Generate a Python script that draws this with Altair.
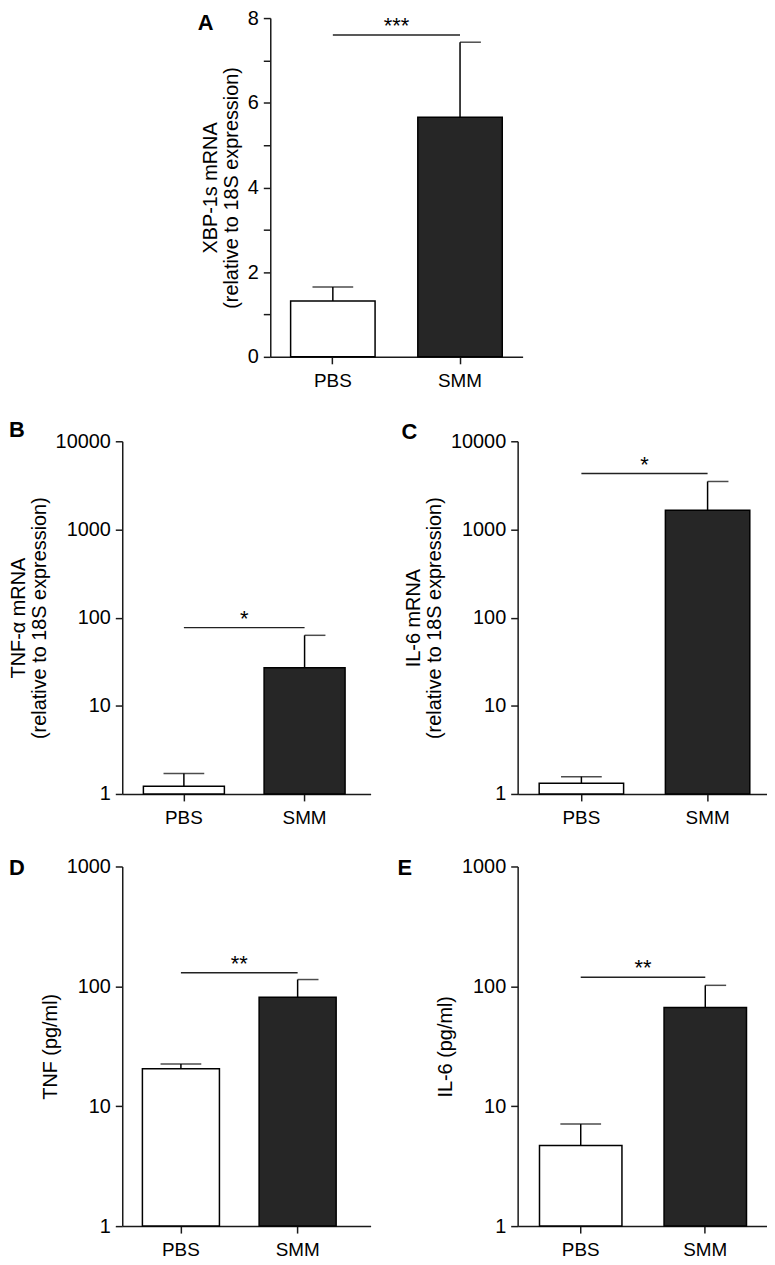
import altair as alt
import pandas as pd

FONT = "Liberation Sans"

cats = ["PBS", "SMM"]
letters = ["A", "B", "C", "D", "E"]

a_mean = [1.32, 5.66]
a_upper = [1.65, 7.43]
a_sig = 7.6
a_stars = "***"

b_mean = [1.22, 27.0]
b_upper = [1.71, 63.0]
b_sig = 77.0
b_stars = "*"

c_mean = [1.32, 1650.0]
c_upper = [1.57, 3500.0]
c_sig = 4300.0
c_stars = "*"

d_mean = [20.5, 81.0]
d_upper = [22.5, 114.0]
d_sig = 130.0
d_stars = "**"

e_mean = [4.7, 66.7]
e_upper = [7.1, 102.0]
e_sig = 119.0
e_stars = "**"

lin_ticks = [0, 1, 2, 3, 4, 5, 6, 7, 8]
log4_ticks = [1, 10, 100, 1000, 10000]
log3_ticks = [1, 10, 100, 1000]

a_title = ["XBP-1s mRNA", "(relative to 18S expression)"]
b_title = ["TNF-\u03b1 mRNA", "(relative to 18S expression)"]
c_title = ["IL-6 mRNA", "(relative to 18S expression)"]
d_title = "TNF (pg/ml)"
e_title = "IL-6 (pg/ml)"


def panel(letter, mean, upper, sig, stars, ytitle, yscale, yvalues, ybase,
          label_expr, yformat, width, height, pi, po, align, lab_x, lab_y):
    df = pd.DataFrame({"cat": cats, "mean": mean, "upper": upper})
    sdf = pd.DataFrame({"from": [cats[0]], "to": [cats[1]], "y": [sig], "stars": [stars]})
    ldf = pd.DataFrame({"letter": [letter]})
    step = width / (2 - pi + 2 * po)
    xs = alt.Scale(domain=cats, paddingInner=pi, paddingOuter=po, align=align)
    xaxis = alt.Axis(title=None, labelAngle=0, labelFontSize=19, labelPadding=8)
    yaxis_kw = dict(title=ytitle, values=yvalues)
    if label_expr:
        yaxis_kw["labelExpr"] = label_expr
    if yformat:
        yaxis_kw["format"] = yformat
    yaxis = alt.Axis(**yaxis_kw)

    def X(f):
        return alt.X(f, type="nominal", scale=xs, axis=xaxis, sort=cats)

    def Y(f):
        return alt.Y(f, type="quantitative", scale=yscale, axis=yaxis)

    base = alt.Chart(df)
    bars = base.mark_bar(stroke="black", strokeWidth=1.5).encode(
        x=X("cat"),
        y=Y("mean"),
        y2=alt.datum(ybase),
        fill=alt.Fill("cat:N", scale=alt.Scale(domain=cats, range=["white", "#262626"]), legend=None),
    )
    err = base.mark_rule(color="black", strokeWidth=1.5).encode(
        x=X("cat"), y=Y("mean"), y2=alt.Y2("upper")
    )
    cap_p = base.transform_filter(alt.datum.cat == cats[0]).mark_tick(
        size=41, thickness=1.5, color="black"
    ).encode(x=X("cat"), y=Y("upper"))
    cap_s = base.transform_filter(alt.datum.cat == cats[1]).mark_tick(
        size=21, thickness=1.5, color="black", xOffset=10.5
    ).encode(x=X("cat"), y=Y("upper"))
    sig_rule = alt.Chart(sdf).mark_rule(color="#222222", strokeWidth=1.5).encode(
        x=X("from"), x2=alt.X2("to"), y=Y("y")
    )
    star = alt.Chart(sdf).mark_text(
        fontSize=22, font=FONT, dx=step / 2, dy=-2, baseline="alphabetic", color="black"
    ).encode(x=X("from"), y=Y("y"), text="stars:N")
    tag = alt.Chart(ldf).mark_text(
        fontSize=22, font=FONT, fontWeight="bold", align="left",
        baseline="alphabetic", color="black",
    ).encode(x=alt.value(lab_x), y=alt.value(lab_y), text="letter:N")

    return alt.layer(bars, err, cap_p, cap_s, sig_rule, star, tag).properties(
        width=width, height=height
    )


lin_scale = alt.Scale(domain=[0, 8], nice=False, zero=True)
log4 = alt.Scale(type="log", domain=[1, 10000], nice=False)
log3 = alt.Scale(type="log", domain=[1, 1000], nice=False)

even_expr = "datum.value % 2 == 0 ? datum.label : ''"

pA = panel(letters[0], a_mean, a_upper, a_sig, a_stars, a_title, lin_scale, lin_ticks, 0,
           even_expr, None, 254, 341, 0.336, 0.16, 0.5, -73, 12)
pB = panel(letters[1], b_mean, b_upper, b_sig, b_stars, b_title, log4, log4_ticks, 1,
           None, "d", 250, 355, 0.329, 0.1934, 0.453, -114, -4)
pC = panel(letters[2], c_mean, c_upper, c_sig, c_stars, c_title, log4, log4_ticks, 1,
           None, "d", 251, 355, 0.331, 0.1535, 0.556, -117, -2)
pD = panel(letters[3], d_mean, d_upper, d_sig, d_stars, d_title, log3, log3_ticks, 1,
           None, "d", 250, 362, 0.34, 0.234, 0.369, -114, 9)
pE = panel(letters[4], e_mean, e_upper, e_sig, e_stars, e_title, log3, log3_ticks, 1,
           None, "d", 251, 362, 0.338, 0.17, 0.516, -121, 9)

spacer = alt.Chart(pd.DataFrame({"v": [0]})).mark_point(opacity=0).encode(
    x=alt.X("v:Q", axis=None), y=alt.Y("v:Q", axis=None)
).properties(width=149, height=10)

row0 = alt.hconcat(spacer, pA, spacing=0, bounds="flush")
row1 = alt.hconcat(pB, pC, spacing=148, bounds="flush")
row2 = alt.hconcat(pD, pE, spacing=148, bounds="flush")

chart = alt.vconcat(row0, row1, row2, spacing=29).properties(
    padding={"top": -4, "left": 0, "right": 0, "bottom": 0}
).configure_view(
    stroke=None
).configure_axis(
    domainColor="#1a1a1a", domainWidth=1.5, tickColor="#1a1a1a", tickWidth=1.5,
    tickSize=7, labelFont=FONT, labelFontSize=20, labelColor="black",
    labelPadding=5, titleFont=FONT, titleFontSize=20, titleFontWeight="normal",
    titleColor="black", titlePadding=6, titleLineHeight=21, grid=False,
)

chart.save("out.html", embed_options={"renderer": "svg", "actions": False})
